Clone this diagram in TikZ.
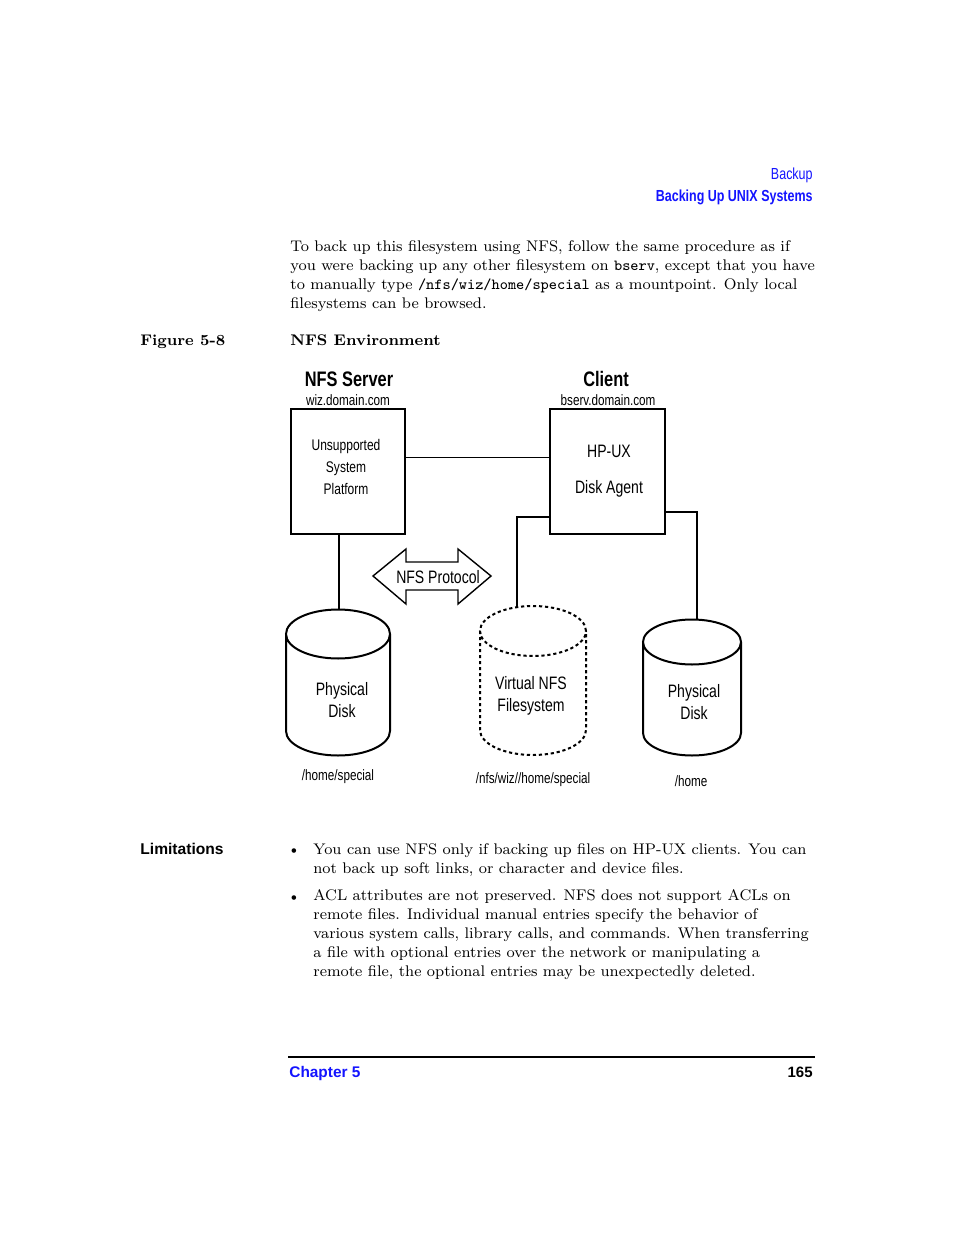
\documentclass[tikz,border=0pt]{standalone}
\usepackage{fontspec}
\usepackage{xcolor}
\usepackage{tikz}
\usetikzlibrary{positioning}
\newfontfamily\narrowsf[FakeStretch=0.78]{Liberation Sans}
\newfontfamily\plainsf{Liberation Sans}
\definecolor{pageblue}{HTML}{1414FF}
\tikzset{
	hostbox/.style={draw, line width=1pt, minimum width=57pt, minimum height=62.5pt, inner sep=0pt},
	wire/.style={line width=0.8pt},
	drum/.style={line width=1pt},
	nfsdash/.style={dash pattern=on 1.6pt off 1.4pt},
	lbl/.style={font=\narrowsf\fontsize{9}{11}\selectfont, align=center, inner sep=0pt},
	small/.style={font=\narrowsf\fontsize{7.5}{11}\selectfont, align=center, inner sep=0pt},
	title/.style={font=\narrowsf\bfseries\fontsize{10.5}{12}\selectfont, inner sep=0pt},
	body/.style={font=\fontsize{7.7}{9.4}\selectfont, align=left, inner sep=0pt},
	head/.style={font=\narrowsf\fontsize{8}{10}\selectfont, text=pageblue, inner sep=0pt},
}

\begin{document}
\begin{tikzpicture}[x=0.5pt, y=-0.5pt]
	\useasboundingbox[fill=white] (0,0) rectangle (954,1235);
	% running head
	\node[head, anchor=east] (sec) at (813,175) {Backup};
	\node[head, font=\narrowsf\bfseries\fontsize{8}{10}\selectfont, anchor=east] (sub) at (813,197) {Backing Up UNIX Systems};
	% text before the figure (base = last line)
	\node[body, anchor=base west] (intro) at (290,308) {To back up this filesystem using NFS, follow the same procedure as if\\
		you were backing up any other filesystem on \texttt{bserv}, except that you have\\
		to manually type \texttt{/nfs/wiz/home/special} as a mountpoint. Only local\\
		filesystems can be browsed.};
	\node[body, font=\bfseries\fontsize{7.7}{9.4}\selectfont, anchor=base west] (fignum) at (140,345) {Figure 5-8};
	\node[body, font=\bfseries\fontsize{7.7}{9.4}\selectfont, anchor=base west] (figname) at (290,345) {NFS Environment};
	% hosts
	\node[hostbox] (srv) at (348,471.5) {};
	\node[hostbox, minimum width=57.5pt, right=71.5pt of srv] (cli) {};
	\node[title] (srvname) at (349,379) {NFS Server};
	\node[small] (srvdom) at (348,400) {wiz.domain.com};
	\node[title] (cliname) at (606,379) {Client};
	\node[small] (clidom) at (608,400) {bserv.domain.com};
	\node[small, font=\narrowsf\fontsize{7.7}{11}\selectfont] (srvtxt) at (346,467) {Unsupported\\System\\Platform};
	\node[lbl, font=\narrowsf\fontsize{9}{18}\selectfont] (clitxt) at (609,471) {HP-UX\\Disk Agent};
	% disks
	\foreach \n/\cx/\ty/\by/\rx/\ry/\sty in {ldisk/338/634/731/52/24.5/solid, vdisk/533/631/730/53/25/nfsdash, rdisk/692/642/733/49/22.5/solid}
	\draw[drum, \sty] (\cx,\ty) ellipse [x radius=\rx*0.5pt, y radius=\ry*0.5pt]
		(\cx-\rx,\ty) -- (\cx-\rx,\by) arc[start angle=180, end angle=360, x radius=\rx*0.5pt, y radius=\ry*0.5pt] -- (\cx+\rx,\ty);
	\coordinate (ldisk) at (339,610);
	\coordinate (vdisk) at (517,607);
	\coordinate (rdisk) at (697,620);
	\node[lbl] (ltxt) at (342,700) {Physical\\Disk};
	\node[lbl] (vtxt) at (531,696) {Virtual NFS\\Filesystem};
	\node[lbl] (rtxt) at (694,702) {Physical\\Disk};
	\node[small] (lpath) at (338,777) {/home/special};
	\node[small] (vpath) at (533,780) {/nfs/wiz//home/special};
	\node[small] (rpath) at (691,781) {/home};
	% links
	\draw[wire] ([yshift=7pt]srv.east) -- ([yshift=7pt]cli.west);
	\draw[wire] (srv.south -| ldisk) -- (ldisk);
	\draw[wire] ([yshift=9pt]cli.south west) -| (vdisk);
	\draw[wire] ([yshift=11.5pt]cli.south east) -| (rdisk);
	% protocol arrow
	\node[lbl] (proto) at (438,577) {NFS Protocol};
	\draw[line width=0.7pt] (432,576) ++(-59,0) -- ++(33,-27) -- ++(0,13) -- ++(52,0) -- ++(0,-13) -- ++(33,27)
		-- ++(-33,28) -- ++(0,-14) -- ++(-52,0) -- ++(0,14) -- cycle;
	% limitations
	\node[body, font=\plainsf\bfseries\fontsize{7.8}{9.4}\selectfont, anchor=base west] (limhead) at (140,854) {Limitations};
	\node[body, anchor=base] (dot1) at (294,854) {\textbullet};
	\node[body, anchor=base west] (lim1) at (313,873) {You can use NFS only if backing up files on HP-UX clients. You can\\
		not back up soft links, or character and device files.};
	\node[body, anchor=base] (dot2) at (294,901) {\textbullet};
	\node[body, anchor=base west] (lim2) at (313,976) {ACL attributes are not preserved. NFS does not support ACLs on\\
		remote files. Individual manual entries specify the behavior of\\
		various system calls, library calls, and commands. When transferring\\
		a file with optional entries over the network or manipulating a\\
		remote file, the optional entries may be unexpectedly deleted.};
	% footer
	\coordinate (rulel) at (288,1057);
	\coordinate (ruler) at (815,1057);
	\draw[line width=1.1pt] (rulel) -- (ruler);
	\node[head, font=\plainsf\bfseries\fontsize{7.7}{10}\selectfont, anchor=base west] (chap) at (289,1077) {Chapter 5};
	\node[body, font=\plainsf\bfseries\fontsize{7.5}{10}\selectfont, anchor=base east] (pageno) at (813,1077) {165};
\end{tikzpicture}
\end{document}
